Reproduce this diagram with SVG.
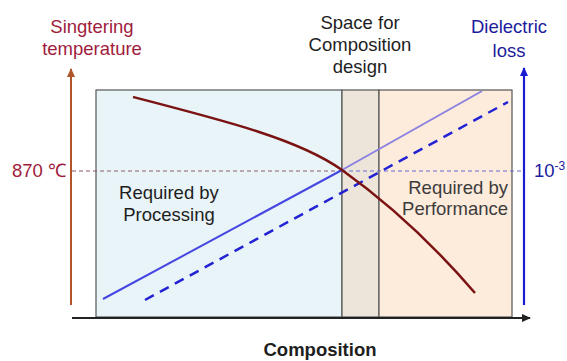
<svg xmlns="http://www.w3.org/2000/svg" width="567" height="361" viewBox="0 0 567 361">
<defs>
<style>
text{font-family:"Liberation Sans",Arial,sans-serif;font-size:18.5px}
.red{fill:#a01c3c}
.blue{fill:#1c1c9c}
.dark{fill:#1e1e1e}
.gray{fill:#3c3c3c}
.c{text-anchor:middle}
</style>
<marker id="arrO" markerWidth="10" markerHeight="10" refX="8" refY="5" orient="auto" markerUnits="userSpaceOnUse"><path d="M0,1 L9,5 L0,9 Z" fill="#b0552a"/></marker>
<marker id="arrB" markerWidth="10" markerHeight="10" refX="8" refY="5" orient="auto" markerUnits="userSpaceOnUse"><path d="M0,1 L9,5 L0,9 Z" fill="#1a1ad0"/></marker>
<marker id="arrK" markerWidth="10" markerHeight="10" refX="8" refY="5" orient="auto" markerUnits="userSpaceOnUse"><path d="M0,1 L9,5 L0,9 Z" fill="#222"/></marker>
</defs>
<rect width="567" height="361" fill="#fff"/>
<g id="regions">
<rect id="processing-region" x="96" y="90" width="246" height="227" fill="#e8f4f8" stroke="#555" stroke-width="1.2"/>
<rect id="design-region" x="342" y="90" width="37" height="227" fill="#ede5d9" stroke="#555" stroke-width="1.2"/>
<rect id="performance-region" x="379" y="90" width="133" height="227" fill="#fdebdc" stroke="#555" stroke-width="1.2"/>
</g>
<g id="connectors">
<line x1="72" y1="171" x2="342" y2="171" stroke="#8a5a70" stroke-width="1.2" stroke-dasharray="4 3"/>
<line x1="342" y1="171" x2="524" y2="171" stroke="#6a6ad0" stroke-width="1.2" stroke-dasharray="4 3"/>
<line x1="71" y1="305" x2="71" y2="69" stroke="#b0552a" stroke-width="2" marker-end="url(#arrO)"/>
<line x1="524" y1="305" x2="524" y2="68" stroke="#1a1ad0" stroke-width="2.2" marker-end="url(#arrB)"/>
<line x1="72" y1="318" x2="530" y2="318" stroke="#222" stroke-width="2" marker-end="url(#arrK)"/>
<line x1="103" y1="299" x2="342" y2="170" stroke="#4646e2" stroke-width="2"/>
<line x1="342" y1="170" x2="482" y2="91" stroke="#8a82e0" stroke-width="2"/>
<line x1="145" y1="300" x2="508" y2="102" stroke="#2222d4" stroke-width="2.5" stroke-dasharray="10 7"/>
<path d="M133,97 C230,122 300,140 342,170 S432,243 475,293" fill="none" stroke="#7a1212" stroke-width="2.5"/>
</g>
<g id="label-temperature">
<text class="red c" x="92" y="33">Singtering</text>
<text class="red c" x="92" y="55">temperature</text>
</g>
<g id="label-space">
<text class="dark c" x="360" y="29">Space for</text>
<text class="dark c" x="360" y="51">Composition</text>
<text class="dark c" x="360" y="73">design</text>
</g>
<g id="label-loss">
<text class="blue c" x="509" y="33">Dielectric</text>
<text class="blue c" x="509" y="57">loss</text>
</g>
<g id="label-870">
<text class="red" x="12" y="177">870 ℃</text>
</g>
<g id="label-10">
<text class="blue" x="534" y="177">10<tspan dy="-7" font-size="12">-3</tspan></text>
</g>
<g id="label-processing">
<text class="dark c" x="169" y="199">Required by</text>
<text class="dark c" x="169" y="221">Processing</text>
</g>
<g id="label-performance">
<text class="gray" x="508" y="194" text-anchor="end">Required by</text>
<text class="gray" x="508" y="215" text-anchor="end">Performance</text>
</g>
<g id="label-composition">
<text class="dark c" x="320" y="356" font-weight="bold" font-size="17">Composition</text>
</g>
</svg>
